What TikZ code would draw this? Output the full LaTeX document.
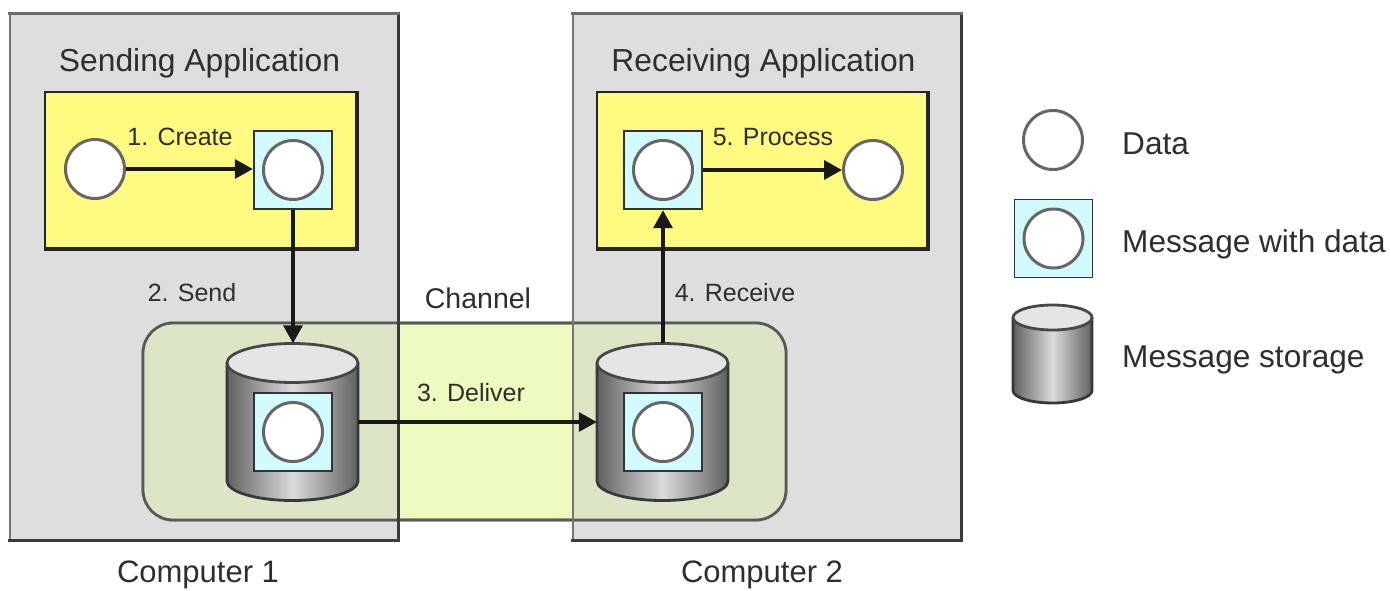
\documentclass[tikz,border=0pt]{standalone}
\usepackage{fontspec}
\setmainfont{Liberation Sans}
\usetikzlibrary{arrows.meta}
\definecolor{compfill}{HTML}{DEDEDE}
\definecolor{chanfill}{HTML}{EEFBBF}
\definecolor{overlapfill}{HTML}{DCE5C6}
\definecolor{appfill}{HTML}{FFFB80}
\definecolor{msgfill}{HTML}{D2FBFF}
\definecolor{inkgray}{HTML}{3A3A3A}
\definecolor{txtgray}{HTML}{2E2E2E}
\tikzset{
  x=1pt,y=-1pt,
  compbox/.style={rectangle,draw=inkgray!70,line width=1.6pt,fill=compfill,minimum width=388pt,minimum height=526pt,inner sep=0pt},
  compline/.style={rectangle,draw=inkgray!70,line width=1.6pt,minimum width=388pt,minimum height=526pt,inner sep=0pt},
  edgeline/.style={draw=inkgray,line width=3pt,line cap=rect},
  chan/.style={rectangle,rounded corners=30pt,draw=inkgray!85,line width=2.8pt,fill=chanfill,minimum width=643pt,minimum height=197pt,inner sep=0pt},
  appbox/.style={rectangle,draw=black!85,line width=2.4pt,fill=appfill,inner sep=0pt,minimum height=156pt},
  msgbox/.style={rectangle,draw=black!80,line width=2.4pt,fill=msgfill,inner sep=0pt,minimum width=78pt,minimum height=78pt},
  datac/.style={circle,draw=black!60,line width=3pt,fill=white,inner sep=0pt,minimum size=59pt},
  flow/.style={draw=black!90,line width=3.4pt,-{Triangle[length=18pt,width=19pt]}},
  title/.style={font=\fontsize{31.8}{36}\selectfont,text=txtgray,inner sep=0pt},
  compname/.style={font=\fontsize{31}{36}\selectfont,text=txtgray,inner sep=0pt},
  lab/.style={font=\fontsize{25}{30}\selectfont,text=txtgray,inner sep=0pt},
  legendtxt/.style={font=\fontsize{31.6}{36}\selectfont,text=txtgray,inner sep=0pt,anchor=west},
}
% name, cx, cy, rx, full height, ry
\newcommand{\StoreCyl}[6]{%
  \node[rectangle,minimum width=#4*2pt,minimum height=#5pt,inner sep=0pt] (#1) at (#2,#3) {};
  \shade[left color=black!62,right color=black!62,middle color=black!14]
    (#2-#4,#3-#5/2+#6) -- (#2-#4,#3+#5/2-#6)
    arc[start angle=180,end angle=360,x radius=#4,y radius=-#6]
    -- (#2+#4,#3-#5/2+#6) -- cycle;
  \draw[black!78,line width=2.8pt]
    (#2-#4,#3-#5/2+#6) -- (#2-#4,#3+#5/2-#6)
    arc[start angle=180,end angle=360,x radius=#4,y radius=-#6]
    -- (#2+#4,#3-#5/2+#6);
  \draw[black!72,line width=2.8pt,fill=black!10] (#2,#3-#5/2+#6) ellipse[x radius=#4,y radius=#6];
}
\begin{document}
\begin{tikzpicture}
\useasboundingbox (0,0) rectangle (1390,590);
% computers
\node[compbox] (comp1) at (204,277) {};
\node[compbox] (comp2) at (767,277) {};
% channel
\node[chan] (chan) at (464.5,421.5) {};
\begin{scope}
  \clip (comp1.north west) rectangle (comp1.south east);
  \fill[overlapfill] (chan.north west) [rounded corners=30pt] rectangle (chan.south east);
\end{scope}
\begin{scope}
  \clip (comp2.north west) rectangle (comp2.south east);
  \fill[overlapfill] (chan.north west) [rounded corners=30pt] rectangle (chan.south east);
\end{scope}
\node[chan,fill=none] (chanline) at (chan.center) {};
\node[compline] (comp1line) at (comp1.center) {};
\node[compline] (comp2line) at (comp2.center) {};
\draw[edgeline] (comp1.north east) -- (comp1.south east) -- (comp1.south west);
\draw[edgeline] (comp2.north east) -- (comp2.south east) -- (comp2.south west);
\draw[edgeline,draw=inkgray!75] (comp1.north west) -- (comp1.north east);
\draw[edgeline,draw=inkgray!75] (comp2.north west) -- (comp2.north east);
% apps
\node[appbox,minimum width=311pt] (app1) at (200.5,170) {};
\node[appbox,minimum width=330pt] (app2) at (762,170) {};
\draw[draw=black!85,line width=3pt] (app1.north east) -- (app1.south east) -- (app1.south west);
\draw[draw=black!85,line width=3pt] (app2.north east) -- (app2.south east) -- (app2.south west);
% titles
\node[title] (t1) at (199.5,63.5) {Sending Application};
\node[title] (t2) at (763.5,63.5) {Receiving Application};
% shapes in apps
\node[datac] (d1) at (95,169) {};
\node[msgbox] (m1) at (293,170) {};
\node[datac] (m1c) at (m1.center) {};
\node[msgbox] (m2) at (663,170) {};
\node[datac] (m2c) at (m2.center) {};
\node[datac] (d2) at (873,170) {};
% cylinders
\StoreCyl{cyl1}{292.5}{422}{65.5}{157}{19.5}
\StoreCyl{cyl2}{662.5}{422}{65.5}{157}{19.5}
\node[msgbox] (m3) at (293,432) {};
\node[datac] (m3c) at (m3.center) {};
\node[msgbox] (m4) at (663,432) {};
\node[datac] (m4c) at (m4.center) {};
% connectors
\draw[flow] (d1) -- (m1.west |- d1);
\draw[flow] (m2) -- (d2);
\draw[flow] (m1.south) -- (m1.south |- cyl1.north);
\draw[flow] (cyl1.east) -- (cyl2.west);
\draw[flow] (m2.south |- cyl2.north) -- (m2.south);
% labels
\node[lab] (l1) at (180,137) {1. Create};
\node[lab] (l5) at (773,137) {5. Process};
\node[lab] (l2) at (192,293) {2. Send};
\node[lab] (l4) at (735,293) {4. Receive};
\node[lab] (l3) at (471,393) {3. Deliver};
\node[title,font=\fontsize{28.5}{34}\selectfont] (lc) at (478,298) {Channel};
\node[compname] (c1) at (198,575) {Computer 1};
\node[compname] (c2) at (762,575) {Computer 2};
% legend
\node[datac] (ld) at (1053,140) {};
\node[msgbox,line width=1.6pt] (lm) at (1053.5,238.5) {};
\node[datac] (lmc) at (lm.center) {};
\StoreCyl{lcyl}{1052.5}{354}{39.5}{98}{12.5}
\node[legendtxt] (ldt) at (1122,144) {Data};
\node[legendtxt] (lmt) at (1122,244) {Message with data};
\node[legendtxt] (lst) at (1122,360) {Message storage};
\end{tikzpicture}
\end{document}
